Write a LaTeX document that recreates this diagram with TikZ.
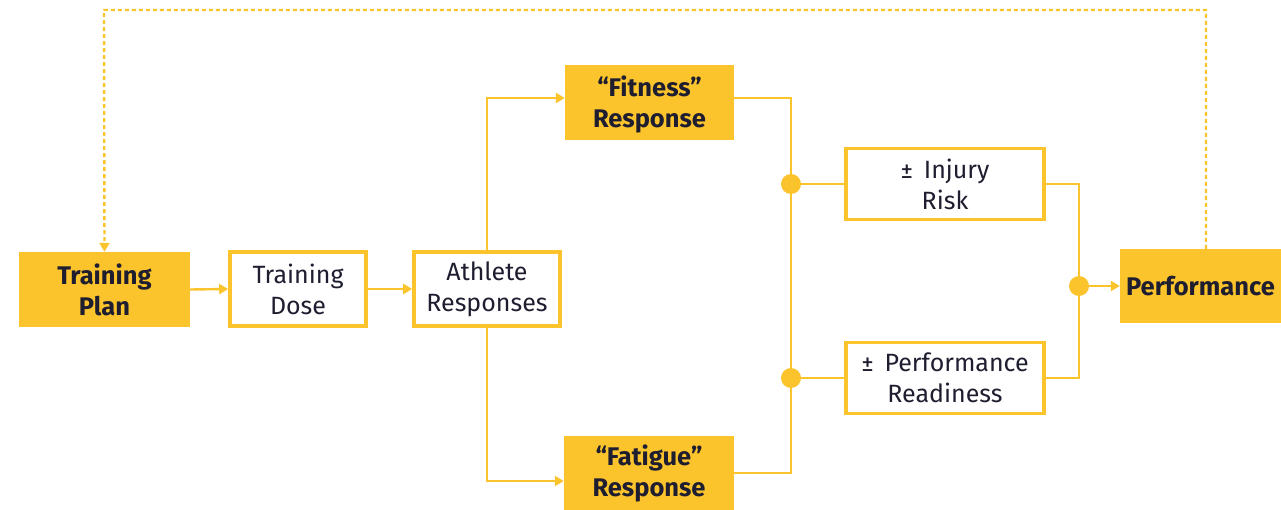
\documentclass[tikz,border=0pt]{standalone}
\usepackage{fontspec}
\setmainfont{Fira Sans}
\usetikzlibrary{arrows.meta}
\definecolor{gold}{HTML}{FCC42C}
\definecolor{ink}{HTML}{1E1E30}
\begin{document}
\begin{tikzpicture}[x=1pt,y=-1pt,
  every node/.style={font=\fontsize{25}{31}\selectfont, text=ink, align=center, inner sep=0pt},
  filledbox/.style={fill=gold, font=\fontsize{25.5}{31}\selectfont\bfseries},
  outlinebox/.style={draw=gold, line width=3.6pt, fill=white},
  conn/.style={draw=gold, line width=2.4pt},
  arr/.style={conn, -{Triangle[length=9pt,width=10pt]}},
  fback/.style={arr, dash pattern=on 4pt off 3pt},
  dot/.style={circle, fill=gold, minimum size=20pt, inner sep=0pt}]
\useasboundingbox (0,0) rectangle (1281,510);

% boxes
\node[filledbox, minimum width=171pt, minimum height=75pt] (tplan) at (104.5,289.5) {Training\\Plan};
\node[outlinebox, minimum width=136pt, minimum height=74pt] (tdose) at (298,289) {Training\\Dose};
\node[outlinebox, minimum width=146pt, minimum height=74pt] (athlete) at (487,289) {Athlete\\Responses};
\node[filledbox, minimum width=169pt, minimum height=75pt] (fitness) at (649.5,102.5) {\rule{0pt}{25pt}``Fitness''\\Response};
\node[filledbox, minimum width=170pt, minimum height=75pt] (fatigue) at (649,473) {``Fatigue''\\Response};
\node[outlinebox, minimum width=198pt, minimum height=71pt] (injury) at (945,184) {±\, Injury\\Risk};
\node[outlinebox, minimum width=198pt, minimum height=71pt] (ready) at (945,378) {±\, Performance\\Readiness};
\node[filledbox, minimum width=161pt, minimum height=74pt] (perf) at (1200.5,286) {Performance};

% junctions
\coordinate (jf) at (791,184);
\coordinate (jr) at (791,378);
\coordinate (jp) at (1079,286);
\coordinate (top) at (104,10);

% main flow
\draw[arr] (tplan.east) -- (tdose.west);
\draw[arr] (tdose.east) -- (athlete.west);
\draw[arr] (athlete.north) |- ([yshift=4.5pt]fitness.west);
\draw[arr] (athlete.south) |- ([yshift=-8pt]fatigue.west);

% response merge
\draw[conn] ([yshift=4.5pt]fitness.east) -| (jf) -- (jr) |- (fatigue.east);
\draw[conn] (jf) -- (injury.west);
\draw[conn] (jr) -- (ready.west);
\draw[conn] (injury.east) -| (jp) |- (ready.east);
\draw[arr] (jp) -- (perf.west);

% feedback loop
\draw[fback] ([xshift=5.5pt]perf.north) |- (top) -- (tplan.north);

% junction dots
\node[dot] (dfit) at (jf) {};
\node[dot] (dfat) at (jr) {};
\node[dot] (dperf) at (jp) {};
\end{tikzpicture}
\end{document}
